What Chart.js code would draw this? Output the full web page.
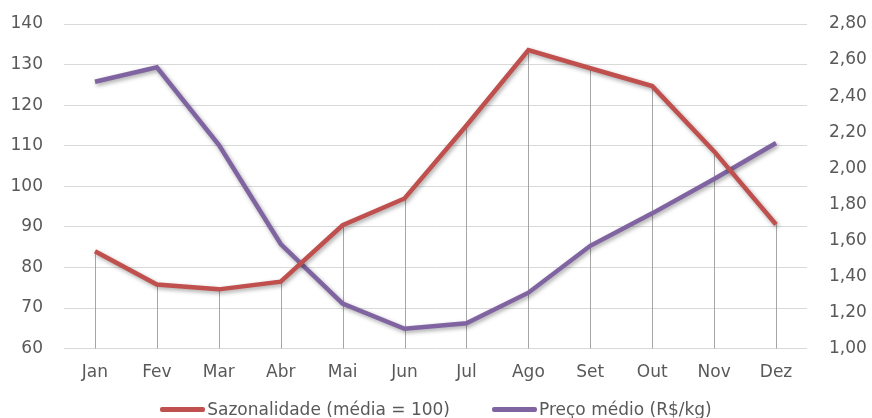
<!DOCTYPE html>
<html>
<head>
<meta charset="utf-8">
<script src="https://cdn.jsdelivr.net/npm/chart.js@4.4.1/dist/chart.umd.min.js"></script>
<style>
  html, body { margin: 0; padding: 0; background: #fff; }
  #wrap { position: relative; width: 872px; height: 418px; overflow: hidden; }
  #legend { position: absolute; left: 0; width: 872px; top: 398px; display: flex; justify-content: center;
    font-family: 'DejaVu Sans', sans-serif; font-size: 17px; color: #595959; line-height: 22px; white-space: nowrap; }
  #legend .item { display: flex; align-items: center; margin: 0 21px; }
  #legend .sw { width: 45px; height: 5px; border-radius: 2px; margin-right: 2px; }
</style>
</head>
<body>
<div id="wrap"><canvas id="c"></canvas><div id="legend"></div></div>
<script>
var months = ['Jan', 'Fev', 'Mar', 'Abr', 'Mai', 'Jun', 'Jul', 'Ago', 'Set', 'Out', 'Nov', 'Dez'];
var sazonalidade = [84, 75.8, 74.6, 76.5, 90.4, 97, 115, 133.6, 129.1, 124.7, 108.6, 90.6];
var precoMedio = [2.48, 2.56, 2.13, 1.58, 1.25, 1.11, 1.14, 1.31, 1.57, 1.75, 1.94, 2.14];

var TXT = '#595959';
var FONT = { family: "'DejaVu Sans', sans-serif", size: 17 };

/* vertical drop lines from the red series down to the x axis */
var dropLines = {
  id: 'dropLines',
  beforeDatasetsDraw: function (chart) {
    var ctx = chart.ctx, bottom = chart.chartArea.bottom;
    var meta = chart.getDatasetMeta(0);
    ctx.save();
    ctx.strokeStyle = '#a6a6a6';
    ctx.lineWidth = 1;
    meta.data.forEach(function (pt) {
      var x = Math.round(pt.x) + 0.5;
      ctx.beginPath(); ctx.moveTo(x, pt.y); ctx.lineTo(x, bottom); ctx.stroke();
    });
    ctx.restore();
  }
};

/* soft shadow under the lines, like the spreadsheet original */
var lineShadow = {
  id: 'lineShadow',
  beforeDatasetDraw: function (chart) {
    var ctx = chart.ctx;
    ctx.save();
    ctx.shadowColor = 'rgba(0,0,0,0.35)';
    ctx.shadowBlur = 4;
    ctx.shadowOffsetX = 1.5;
    ctx.shadowOffsetY = 2;
  },
  afterDatasetDraw: function (chart) { chart.ctx.restore(); }
};

/* html legend built from the datasets (line swatch + label) */
var htmlLegend = {
  id: 'htmlLegend',
  afterUpdate: function (chart) {
    var box = document.getElementById('legend');
    box.innerHTML = '';
    chart.data.datasets.forEach(function (ds) {
      var item = document.createElement('div'); item.className = 'item';
      var sw = document.createElement('span'); sw.className = 'sw'; sw.style.background = ds.borderColor;
      var tx = document.createElement('span'); tx.textContent = ds.label;
      item.appendChild(sw); item.appendChild(tx); box.appendChild(item);
    });
  }
};

function fixY(w) {
  return function (s) { s.width = w; s.paddingTop = 0; s.paddingBottom = 0; };
}

new Chart(document.getElementById('c'), {
  type: 'line',
  data: {
    labels: months,
    datasets: [
      { label: 'Sazonalidade (média = 100)', data: sazonalidade, yAxisID: 'y',
        borderColor: '#c0504d', backgroundColor: '#c0504d', borderWidth: 4.5, pointRadius: 0, tension: 0, fill: false },
      { label: 'Preço médio (R$/kg)', data: precoMedio, yAxisID: 'y2',
        borderColor: '#8064a2', backgroundColor: '#8064a2', borderWidth: 4.5, pointRadius: 0, tension: 0, fill: false }
    ]
  },
  options: {
    responsive: true, maintainAspectRatio: false, animation: false,
    layout: { autoPadding: false, padding: { top: 24, bottom: 29, left: 0, right: 0 } },
    plugins: {
      legend: { display: false },
      tooltip: { enabled: false }
    },
    scales: {
      x: {
        offset: true,
        grid: { display: false },
        border: { display: false },
        ticks: { color: TXT, font: FONT, padding: 6 }
      },
      y: {
        position: 'left', min: 60, max: 140,
        grid: { color: '#d9d9d9', drawTicks: false },
        border: { display: false },
        ticks: { stepSize: 10, color: TXT, font: FONT, padding: 21 },
        afterFit: fixY(64)
      },
      y2: {
        position: 'right', min: 1, max: 2.8,
        grid: { display: false, drawTicks: false },
        border: { display: false },
        ticks: { stepSize: 0.2, color: TXT, font: FONT, padding: 22,
          callback: function (v) { return v.toFixed(2).replace('.', ','); } },
        afterFit: fixY(65)
      }
    }
  },
  plugins: [dropLines, lineShadow, htmlLegend]
});
</script>
</body>
</html>
